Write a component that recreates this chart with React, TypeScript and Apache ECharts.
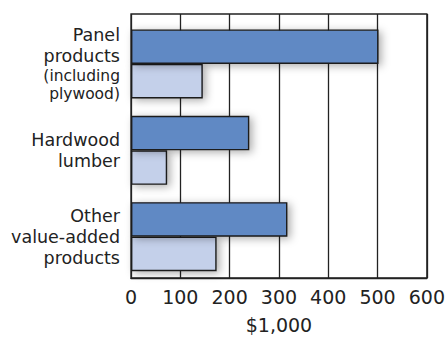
import React, { useEffect, useRef } from "react";
import * as echarts from "echarts";

// Category labels (line breaks as printed) and values in $1,000
const categories = [
  "Panel\nproducts\n{s|(including}\n{s|plywood)}",
  "Hardwood\nlumber",
  "Other\nvalue-added\nproducts",
];
const darkValues = [500, 239, 316];
const lightValues = [145, 73, 173];
const xTicks = { min: 0, max: 600, interval: 100 };
const xName = "$1,000";

const FONT = "DejaVu Sans";
const INK = "#222222";

export default function App() {
  const ref = useRef<HTMLDivElement>(null);

  useEffect(() => {
    if (!ref.current) return;
    const chart = echarts.init(ref.current, undefined, { renderer: "svg" });

    const barStyle = (color: string) => ({
      color,
      borderColor: "#1a1a1a",
      borderWidth: 1.4,
      shadowBlur: 9,
      shadowColor: "rgba(0,0,0,0.33)",
      shadowOffsetX: 3,
      shadowOffsetY: 2,
    });

    chart.setOption({
      animation: false,
      backgroundColor: "#ffffff",
      grid: [
        // frame, vertical grid lines and value axis
        { left: 131, top: 14, width: 297, height: 271, show: true, borderColor: INK, borderWidth: 1.3, backgroundColor: "transparent" },
        // bars and category labels
        { left: 131, top: 20.8, width: 297, height: 259 },
      ],
      xAxis: [
        {
          gridIndex: 0,
          type: "value",
          min: xTicks.min,
          max: xTicks.max,
          interval: xTicks.interval,
          name: xName,
          nameLocation: "middle",
          nameGap: 37,
          nameTextStyle: { fontFamily: FONT, fontSize: 19, color: INK },
          axisLine: { show: true, lineStyle: { color: INK, width: 1.3 } },
          axisTick: { show: false },
          axisLabel: { margin: 9, fontFamily: FONT, fontSize: 19, color: INK },
          splitLine: { show: true, lineStyle: { color: INK, width: 1.3 } },
        },
        {
          gridIndex: 1,
          type: "value",
          min: xTicks.min,
          max: xTicks.max,
          interval: xTicks.interval,
          show: false,
          splitLine: { show: false },
        },
      ],
      yAxis: [
        { gridIndex: 0, type: "value", show: false, splitLine: { show: false } },
        {
          gridIndex: 1,
          type: "category",
          inverse: true,
          data: categories,
          axisLine: { show: false },
          axisTick: { show: false },
          axisLabel: {
            margin: 11,
            fontFamily: FONT,
            fontSize: 17.5,
            lineHeight: 21,
            color: INK,
            align: "right",
            rich: {
              s: { fontFamily: FONT, fontSize: 15.5, lineHeight: 18.5, color: INK },
            },
          },
        },
      ],
      series: [
        {
          type: "bar",
          xAxisIndex: 1,
          yAxisIndex: 1,
          data: darkValues,
          barWidth: 34.5,
          barGap: "0%",
          itemStyle: barStyle("#6189c4"),
          z: 3,
        },
        {
          type: "bar",
          xAxisIndex: 1,
          yAxisIndex: 1,
          data: lightValues,
          barWidth: 34.5,
          barGap: "0%",
          itemStyle: barStyle("#c4d0ea"),
          z: 2,
        },
      ],
    });

    return () => chart.dispose();
  }, []);

  return (
    <div
      ref={ref}
      style={{ position: "fixed", left: 0, top: 0, width: 448, height: 339, background: "#fff" }}
    />
  );
}
